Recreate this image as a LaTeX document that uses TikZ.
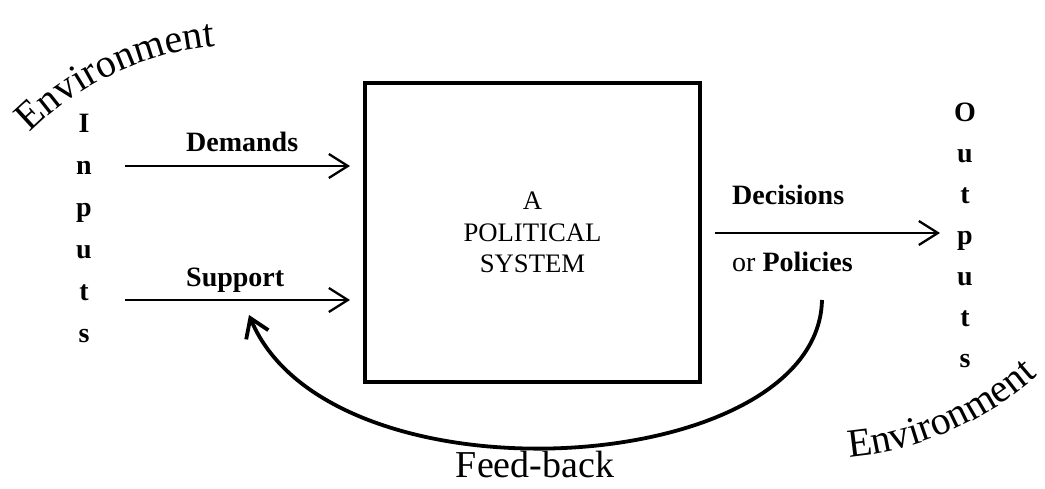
\documentclass[tikz,border=0pt]{standalone}
\usepackage{fontspec}
\setmainfont{Liberation Serif}
\usetikzlibrary{arrows.meta, decorations.text}
\newcommand*{\envfont}{\fontsize{40}{48}\selectfont}
\newcommand*{\lblfont}{\fontsize{28}{34}\selectfont\bfseries}

\begin{document}
\begin{tikzpicture}[
   x=1pt, y=1pt,
   sysbox/.style={rectangle, draw=black, line width=4.5, inner sep=0,
                  minimum width=335, minimum height=299, align=center,
                  font=\fontsize{26.7}{31.5}\selectfont},
   flowlbl/.style={anchor=base west, inner sep=0, font=\lblfont},
   letter/.style={anchor=base, inner sep=0, font=\lblfont},
   bigtxt/.style={anchor=base, inner sep=0, font=\fontsize{38}{46}\selectfont},
   flow/.style={-{Straight Barb[length=19pt, width=24pt]}, line width=2.3},
   feedback/.style={-{Straight Barb[length=18pt, width=24pt]}, line width=3.8}
  ]

  \useasboundingbox (0, 0) rectangle (1045, 489);

  \node (sys) at (532.5, 256.5) [sysbox] {A\\POLITICAL\\SYSTEM};

  % Inputs / Outputs columns
  \foreach \l [count=\i] in {I, n, p, u, t, s} {
    \node (in\i) at (84, 356 - 42 * \i + 42) [letter] {\l};
  }
  \foreach \l [count=\i] in {O, u, t, p, u, t, s} {
    \node (out\i) at (965, 367 - 41 * \i + 41) [letter] {\l};
  }

  \node (dem) at (186, 337) [flowlbl] {Demands};
  \node (sup) at (186, 202) [flowlbl] {Support};
  \node (dec) at (732, 284) [flowlbl] {Decisions};
  \node (pol) at (732, 217) [flowlbl] {{\mdseries or} Policies};
  \node (fb) at (535, 11) [bigtxt] {Feed-back};

  \coordinate (demA) at (125, 323);
  \coordinate (demB) at (350, 323);
  \coordinate (supA) at (125, 189);
  \coordinate (supB) at (350, 189);
  \coordinate (decA) at (715, 256);
  \coordinate (decB) at (940, 256);
  \coordinate (fbS) at (822, 189);
  \coordinate (fbE) at (249, 174);

  \foreach \B/\E in {demA/demB, supA/supB, decA/decB} {
    \draw[flow] (\B) -- (\E);
  }
  \draw[feedback] (fbS) .. controls (818, 10) and (330, -20) .. (fbE);

  % Environment
  \path[decorate, decoration={text along path, text={|\envfont|Environment}}]
    (30, 356) arc[start angle=135, end angle=93, radius=300];
  \path[decorate, decoration={text along path, text={|\envfont|Environment}}]
    (849, 32) arc[start angle=-85, end angle=-45, radius=326];

\end{tikzpicture}
\end{document}
